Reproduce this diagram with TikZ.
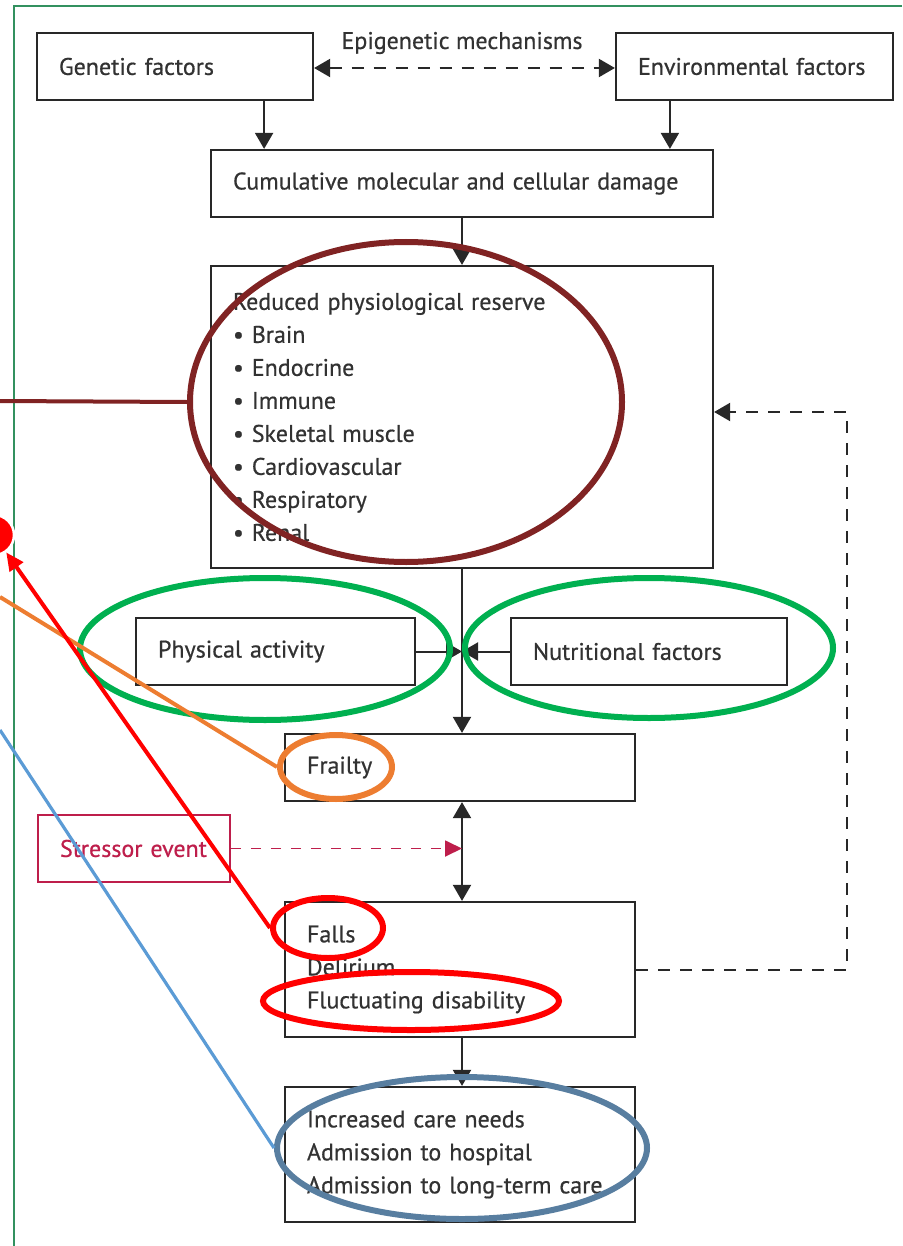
\documentclass[tikz,border=0pt]{standalone}
\usepackage{fontspec}
\setmainfont{PT Sans}[BoldFont={PT Sans},BoldFeatures={FakeBold=0.6}]
\usetikzlibrary{arrows.meta,shapes.geometric,calc}
\definecolor{ink}{RGB}{40,40,40}
\definecolor{txt}{RGB}{50,50,50}
\definecolor{frame}{RGB}{50,145,95}
\definecolor{crim}{RGB}{190,30,75}
\definecolor{brownc}{RGB}{128,35,35}
\definecolor{greenc}{RGB}{0,176,80}
\definecolor{orangec}{RGB}{237,125,49}
\definecolor{bluec}{RGB}{88,126,160}
\definecolor{bluel}{RGB}{91,155,213}
\begin{document}
\begin{tikzpicture}[x=1pt,y=-1pt,
  box/.style={draw=ink,line width=2.2pt,rectangle,inner xsep=22pt,inner ysep=0pt,
    align=left,text=txt,font=\fontsize{24}{33}\selectfont\bfseries},
  lbl/.style={text=txt,font=\fontsize{24}{33}\selectfont\bfseries,inner sep=0pt},
  tip/.style={-{Triangle[length=16pt,width=18pt]}},
  arr/.style={draw=ink,line width=2pt,tip},
  dasharr/.style={arr,dash pattern=on 12pt off 10pt},
  ell/.style={ellipse,inner sep=0pt,line width=6pt},
  anno/.style={line width=4pt}]
\useasboundingbox (0,0) rectangle (902,1246);
% frame
\draw[frame,line width=2.6pt] (902,6) -- (14,6) -- (14,1246);

% boxes
\node[box,text width=232pt,minimum height=67pt] (gen) at (175,66.5) {Genetic factors};
\node[box,text width=233pt,minimum height=67pt] (env) at (754.5,66.5) {Environmental factors};
\node[lbl] (epi) at (462,43) {Epigenetic mechanisms};
\node[box,text width=458pt,minimum height=67pt] (cum) at (462,183.5) {Cumulative molecular and cellular damage};
\node[box,text width=458pt,minimum height=302pt] (red) at (462,417) {Reduced physiological reserve\\
\textbullet\ Brain\\ \textbullet\ Endocrine\\ \textbullet\ Immune\\ \textbullet\ Skeletal muscle\\
\textbullet\ Cardiovascular\\ \textbullet\ Respiratory\\ \textbullet\ Renal};
\node[box,text width=235pt,minimum height=67pt] (pa) at (275.5,651.5) {Physical activity};
\node[box,text width=232pt,minimum height=67pt] (nf) at (649,651.5) {Nutritional factors};
\node[box,text width=306pt,minimum height=67pt] (frail) at (460,767.5) {Frailty};
\node[box,draw=crim,text=crim,line width=1.8pt,text width=148pt,minimum height=67pt] (stress) at (134,848.5) {Stressor event};
\node[box,text width=306pt,minimum height=135pt] (falls) at (460,969.5) {Falls\\ Delirium\\ Fluctuating disability};
\node[box,text width=306pt,minimum height=135pt] (care) at (460,1154.5) {Increased care needs\\ Admission to hospital\\ Admission to long-term care};

% connectors
\draw[dasharr,{Triangle[length=16pt,width=18pt]}-{Triangle[length=16pt,width=18pt]}] ([yshift=-1.5pt]gen.east) -- ([yshift=-1.5pt]env.west);
\draw[arr] ([xshift=-50pt]gen.south east) -- ([xshift=-50pt]gen.south east |- cum.north);
\draw[arr] ([xshift=55pt]env.south west) -- ([xshift=55pt]env.south west |- cum.north);
\draw[arr] (cum.south) -- (red.north);
\draw[arr] (red.south) -- (red.south |- frail.north);
\draw[arr] (pa.east) -- (pa.east -| red.south);
\draw[arr] (nf.west) -- (nf.west -| red.south);
\draw[arr,{Triangle[length=16pt,width=18pt]}-{Triangle[length=16pt,width=18pt]}] (frail.south -| red.south) -- (falls.north -| red.south);
\draw[draw=crim,line width=1.8pt,dash pattern=on 10pt off 10pt,-{Triangle[length=17pt,width=16pt]}] (stress.east) -- (stress.east -| red.south);
\draw[arr] (falls.south -| red.south) -- (care.north -| red.south);
\draw[dasharr] (falls.east) -- ++(211,0) |- ([yshift=5pt]red.east);

% annotations
\node[ell,draw=brownc,minimum width=432pt,minimum height=320pt] (eB) at (406,402) {};
\node[ell,draw=greenc,minimum width=370pt,minimum height=142pt] (eGL) at (265,649) {};
\node[ell,draw=greenc,minimum width=368pt,minimum height=140pt] (eGR) at (649,648) {};
\node[ell,draw=orangec,minimum width=112pt,minimum height=64pt] (eO) at (336,767) {};
\node[ell,draw=red,minimum width=110pt,minimum height=60pt] (eF) at (328,928) {};
\node[ell,draw=red,minimum width=296pt,minimum height=58pt] (eFD) at (411,1001) {};
\node[ell,draw=bluec,minimum width=370pt,minimum height=142pt] (eBl) at (462,1148) {};
\node[circle,fill=red,draw=white,line width=2.5pt,minimum size=40pt,inner sep=0pt] (dot) at (-6,535) {};

\coordinate (bL) at (0,401);
\coordinate (oL) at (0,597);
\coordinate (blL) at (0,730);
\draw[anno,brownc] (eB.west) -- (bL);
\draw[anno,orangec] (eO.west) -- (oL);
\draw[anno,bluel,line width=3.2pt] (eBl.west) -- (blL);
\draw[anno,red,-{Triangle[length=18pt,width=16pt]}] (eF.west) -- (dot);
\end{tikzpicture}
\end{document}
